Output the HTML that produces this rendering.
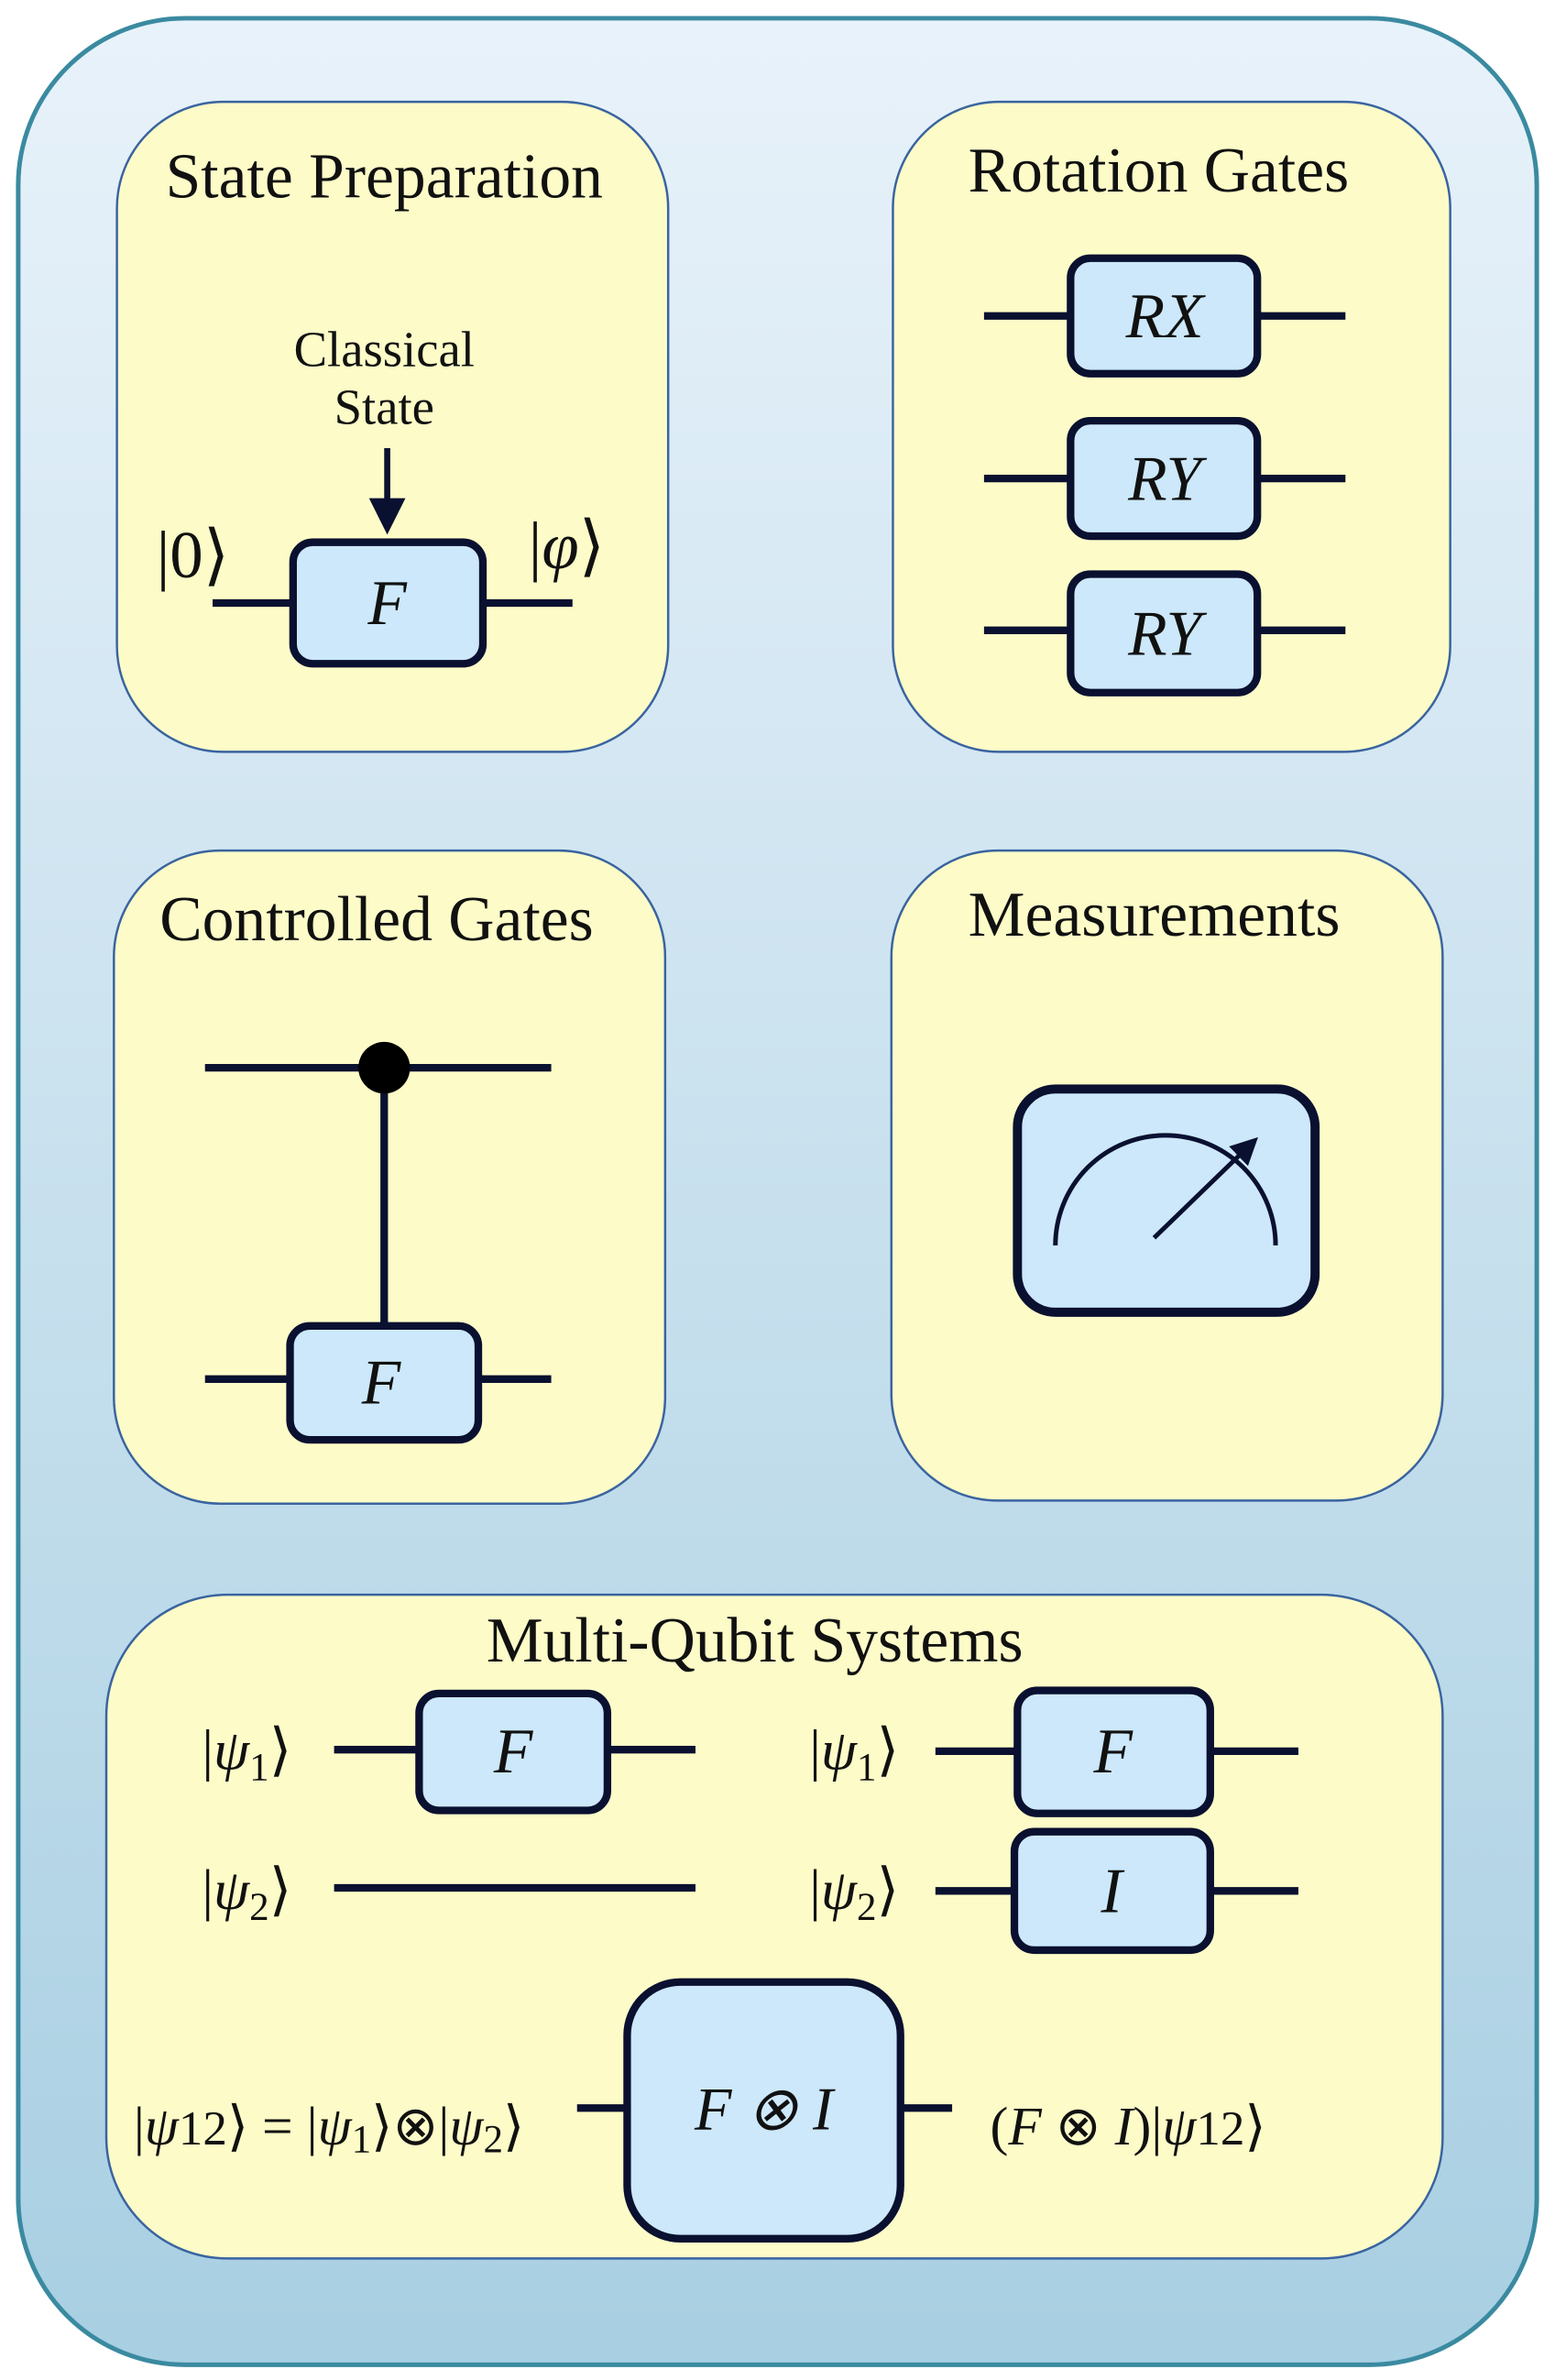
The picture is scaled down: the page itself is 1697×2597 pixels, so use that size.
<!DOCTYPE html>
<html><head><meta charset="utf-8"><style>html,body{margin:0;padding:0;background:#fff}svg{display:block}</style></head>
<body>
<svg width="1697" height="2597" viewBox="0 0 1024 1567" xmlns="http://www.w3.org/2000/svg" font-family="Liberation Serif, serif">
<defs>
<linearGradient id="bg" x1="0" y1="0" x2="0" y2="1"><stop offset="0" stop-color="#e8f2fa"/><stop offset="1" stop-color="#a8cfe2"/></linearGradient>
<marker id="ah" markerWidth="6" markerHeight="6" refX="3" refY="3" orient="auto" markerUnits="strokeWidth"><path d="M0,0 L6,3 L0,6 z" fill="#0a1030"/></marker>
</defs>
<rect x="12" y="12" width="1000" height="1545" rx="110" fill="url(#bg)" stroke="#3a8aa0" stroke-width="3"/>
<g fill="#fdfcc8" stroke="#3a64a0" stroke-width="1.5">
<rect x="77" y="67" width="363" height="428" rx="70"/>
<rect x="588" y="67" width="367" height="428" rx="70"/>
<rect x="75" y="560" width="363" height="430" rx="70"/>
<rect x="587" y="560" width="363" height="428" rx="70"/>
<rect x="70" y="1050" width="880" height="437" rx="80"/>
</g>
<g font-size="42" text-anchor="middle" fill="#111">
<text x="253" y="130">State Preparation</text>
<text x="763" y="126">Rotation Gates</text>
<text x="248" y="619">Controlled Gates</text>
<text x="760" y="616">Measurements</text>
<text x="497" y="1094">Multi-Qubit Systems</text>
</g>
<g stroke="#0a1030" stroke-width="5" fill="none">
<line x1="140" y1="397" x2="193" y2="397"/><line x1="318" y1="397" x2="377" y2="397"/>
<line x1="255" y1="295" x2="255" y2="340" marker-end="url(#ah)" stroke-width="4"/>
<line x1="648" y1="208" x2="886" y2="208"/><line x1="648" y1="315" x2="886" y2="315"/><line x1="648" y1="415" x2="886" y2="415"/>
<line x1="135" y1="703" x2="363" y2="703"/><line x1="253" y1="703" x2="253" y2="873"/>
<line x1="135" y1="908" x2="363" y2="908"/>
<line x1="220" y1="1152" x2="458" y2="1152"/><line x1="220" y1="1243" x2="458" y2="1243"/>
<line x1="616" y1="1153" x2="855" y2="1153"/><line x1="616" y1="1245" x2="855" y2="1245"/>
<line x1="380" y1="1388" x2="627" y2="1388"/>
</g>
<circle cx="253" cy="703" r="17" fill="#000"/>
<g fill="#cce8fa" stroke="#0a1030" stroke-width="5">
<rect x="193" y="357" width="125" height="80" rx="13"/>
<rect x="705" y="170" width="123" height="76" rx="13"/>
<rect x="705" y="277" width="123" height="76" rx="13"/>
<rect x="705" y="378" width="123" height="78" rx="13"/>
<rect x="191" y="873" width="124" height="75" rx="13"/>
<rect x="670" y="717" width="196" height="147" rx="25" stroke-width="6"/>
<rect x="276" y="1115" width="124" height="77" rx="13"/>
<rect x="670" y="1113" width="127" height="81" rx="13"/>
<rect x="668" y="1206" width="129" height="78" rx="13"/>
<rect x="413" y="1305" width="180" height="169" rx="35"/>
</g>
<path d="M695,820 A72,72 0 0 1 840,820" fill="none" stroke="#0a1030" stroke-width="3"/>
<line x1="760" y1="815" x2="822" y2="755" stroke="#0a1030" stroke-width="3" marker-end="url(#ah)"/>
<g font-size="33" text-anchor="middle" fill="#111">
<text x="253" y="241">Classical</text>
<text x="253" y="279">State</text>
</g>
<g font-style="italic" font-size="42" text-anchor="middle" fill="#111">
<text x="255" y="411">F</text>
<text x="767" y="222">RX</text>
<text x="767" y="329">RY</text>
<text x="767" y="431">RY</text>
<text x="251" y="924">F</text>
<text x="338" y="1167">F</text>
<text x="733" y="1167">F</text>
<text x="732" y="1259">I</text>
<text x="503" y="1402" font-size="40">F ⊗ I</text>
</g>
<g font-size="44" fill="#111">
<text x="103" y="380">|0⟩</text>
<text x="348" y="374">|<tspan font-style="italic">φ</tspan>⟩</text>
</g>
<g font-size="38" fill="#111">
<text x="133" y="1165">|<tspan font-style="italic">ψ</tspan><tspan font-size="26" dy="7">1</tspan><tspan dy="-7">⟩</tspan></text>
<text x="133" y="1257">|<tspan font-style="italic">ψ</tspan><tspan font-size="26" dy="7">2</tspan><tspan dy="-7">⟩</tspan></text>
<text x="533" y="1165">|<tspan font-style="italic">ψ</tspan><tspan font-size="26" dy="7">1</tspan><tspan dy="-7">⟩</tspan></text>
<text x="533" y="1257">|<tspan font-style="italic">ψ</tspan><tspan font-size="26" dy="7">2</tspan><tspan dy="-7">⟩</tspan></text>
<text x="88" y="1412" font-size="36">|<tspan font-style="italic">ψ</tspan><tspan font-size="32">12</tspan>⟩ = |<tspan font-style="italic">ψ</tspan><tspan font-size="26" dy="5">1</tspan><tspan dy="-5">⟩⊗|</tspan><tspan font-style="italic">ψ</tspan><tspan font-size="26" dy="5">2</tspan><tspan dy="-5">⟩</tspan></text>
<text x="652" y="1412" font-size="36">(<tspan font-style="italic">F</tspan> ⊗ <tspan font-style="italic">I</tspan>)|<tspan font-style="italic">ψ</tspan><tspan font-size="32">12</tspan>⟩</text>
</g>
</svg>
</body></html>
